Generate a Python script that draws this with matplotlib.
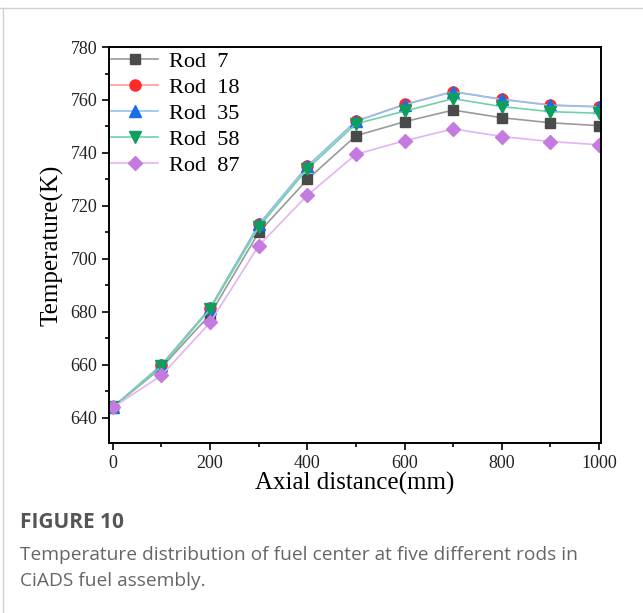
import matplotlib
matplotlib.use('Agg')
import matplotlib.pyplot as plt
from matplotlib.lines import Line2D
from matplotlib.ticker import MultipleLocator

distance = [0, 100, 200, 300, 400, 500, 600, 700, 800, 900, 1000]
rod7 = [644, 659, 679, 710, 730, 746.5, 751.8, 756.2, 753.3, 751.4, 750.3]
rod18 = [644, 660, 681.5, 713, 735, 752, 758.4, 763.2, 760.3, 758.1, 757.5]
rod35 = [644, 660, 681.5, 713, 735, 752, 758.2, 763.1, 760.2, 758.0, 757.4]
rod58 = [644, 659.5, 681, 712, 734, 751, 755.8, 760.5, 757.5, 755.6, 755.0]
rod87 = [644, 656, 676, 705, 724, 739.5, 744.6, 749.1, 746.2, 744.3, 743.1]

labels = ['Rod  7', 'Rod  18', 'Rod  35', 'Rod  58', 'Rod  87']
series = [rod7, rod18, rod35, rod58, rod87]
markers = ['s', 'o', '^', 'v', 'D']
mcolors = ['#4a4a4a', '#ff2a2a', '#1a6ee8', '#0e9e5e', '#c47ade']
lcolors = ['#9a9a9a', '#ff9a9a', '#8cc4f5', '#6fd3a6', '#e2b4f2']
msizes = [7, 8, 8, 8, 7]

fig = plt.figure(figsize=(6.43, 6.13), dpi=100)
ax = fig.add_axes([0.1695, 0.2773, 0.7652, 0.646])

for y, lab, m, mc, lc, ms in zip(series, labels, markers, mcolors, lcolors, msizes):
    ax.plot(distance, y, color=lc, lw=1.2, marker=m, markersize=ms,
            markerfacecolor=mc, markeredgecolor=mc, label=lab)

ax.set_xlim(-8, 1004)
ax.set_ylim(630.5, 780)
ax.xaxis.set_major_locator(MultipleLocator(200))
ax.xaxis.set_minor_locator(MultipleLocator(100))
ax.yaxis.set_major_locator(MultipleLocator(20))
ax.yaxis.set_minor_locator(MultipleLocator(10))
ax.tick_params(which='both', direction='out', width=1.2, labelsize=13)
ax.tick_params(which='major', length=5)
ax.tick_params(which='minor', length=3)
for s in ax.spines.values():
    s.set_linewidth(1.4)
for t in ax.get_xticklabels() + ax.get_yticklabels():
    t.set_fontfamily('Liberation Serif')
    t.set_color('#222222')

ax.set_xlabel('Axial distance(mm)', fontsize=18, family='Liberation Serif', labelpad=0)
ax.set_ylabel('Temperature(K)', fontsize=18, family='Liberation Serif', labelpad=5)

leg = ax.legend(loc='upper left', frameon=False, prop={'family': 'Liberation Serif', 'size': 16},
                handlelength=2.1, labelspacing=0.25, borderaxespad=0.0, borderpad=0.1,
                handletextpad=0.5, bbox_to_anchor=(0.0, 0.995))

# page frame and caption
fig.add_artist(Line2D([0, 1], [1 - 8 / 613, 1 - 8 / 613], color='#d0d0d0', lw=1))
fig.add_artist(Line2D([3 / 643, 3 / 643], [0, 1 - 8 / 613], color='#d0d0d0', lw=1))
fig.text(20 / 643, 1 - 528 / 613, 'FIGURE 10', fontsize=15, fontweight='bold',
         color='#555555', family='Open Sans', va='baseline')
fig.text(20 / 643, 1 - 560 / 613, 'Temperature distribution of fuel center at five different rods in',
         fontsize=13.8, color='#666666', family='Open Sans', va='baseline')
fig.text(20 / 643, 1 - 586 / 613, 'CiADS fuel assembly.',
         fontsize=13.8, color='#666666', family='Open Sans', va='baseline')

fig.savefig('out.png', dpi=100)
